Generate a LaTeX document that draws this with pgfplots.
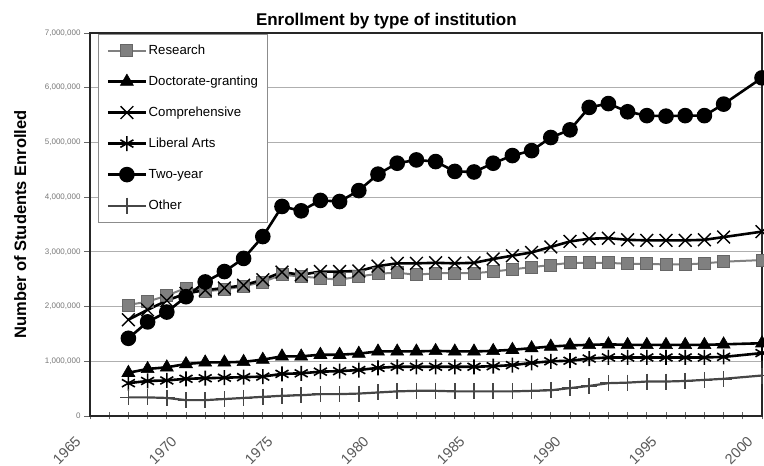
\documentclass[border=0pt]{standalone}
\usepackage{pgfplots}
\usepackage{pgfplotstable}
\pgfplotsset{compat=1.18}
\usepackage{fontspec}
\setmainfont{Liberation Sans}
\definecolor{rgray}{RGB}{128,128,128}
\definecolor{ogray}{RGB}{70,70,70}
\definecolor{gridc}{RGB}{175,175,175}
\definecolor{tickc}{RGB}{120,120,120}
\pgfplotstableread{
year research doctorate comprehensive liberal twoyear other
1967 2030000 790000 1760000 600000 1420000 340000
1968 2090000 860000 1940000 640000 1720000 340000
1969 2200000 890000 2110000 650000 1900000 330000
1970 2340000 950000 2240000 680000 2180000 290000
1971 2280000 980000 2300000 690000 2450000 290000
1972 2310000 980000 2340000 700000 2640000 310000
1973 2370000 990000 2390000 710000 2880000 330000
1974 2450000 1030000 2490000 720000 3280000 350000
1975 2580000 1090000 2630000 770000 3830000 370000
1976 2550000 1090000 2580000 780000 3750000 380000
1977 2520000 1120000 2640000 810000 3940000 400000
1978 2490000 1120000 2640000 820000 3920000 400000
1979 2550000 1140000 2650000 840000 4120000 410000
1980 2600000 1180000 2740000 880000 4420000 430000
1981 2620000 1180000 2790000 900000 4620000 450000
1982 2580000 1180000 2790000 900000 4680000 460000
1983 2610000 1190000 2800000 900000 4650000 460000
1984 2610000 1180000 2790000 900000 4470000 450000
1985 2610000 1180000 2800000 900000 4460000 450000
1986 2640000 1190000 2870000 910000 4620000 450000
1987 2680000 1210000 2930000 930000 4760000 450000
1988 2720000 1240000 2990000 970000 4850000 460000
1989 2760000 1270000 3090000 1000000 5090000 470000
1990 2800000 1290000 3190000 1010000 5230000 510000
1991 2800000 1300000 3240000 1050000 5640000 550000
1992 2800000 1310000 3250000 1070000 5710000 600000
1993 2780000 1300000 3220000 1070000 5560000 610000
1994 2780000 1300000 3210000 1070000 5490000 630000
1995 2770000 1300000 3210000 1070000 5480000 630000
1996 2770000 1300000 3210000 1070000 5490000 640000
1997 2790000 1300000 3220000 1070000 5490000 660000
1998 2820000 1310000 3270000 1080000 5700000 680000
2000 2850000 1330000 3370000 1150000 6180000 740000
}\datatable
\begin{document}
\begin{tikzpicture}[x=1pt,y=1pt]
\path[use as bounding box] (0,0) rectangle (764,466);
\begin{axis}[
  at={(90pt,50pt)}, anchor=south west,
  scale only axis, width=672pt, height=383pt,
  xmin=1965, xmax=2000, ymin=0, ymax=7000000,
  xtick={1965,1970,...,2000}, minor xtick={1965,...,2000},
  ytick={0,1000000,...,7000000},
  scaled y ticks=false, clip=false,
  ymajorgrids, grid style={gridc, line width=1.2pt},
  axis line style={black!85, line width=1.3pt},
  xtick align=center, ytick align=outside, tick pos=left,
  major tick length=6pt, minor tick length=7pt,
  tick style={black!60, line width=0.8pt},
  /pgf/number format/assume math mode=true,
  yticklabel style={font=\fontsize{8}{9}\selectfont, text=tickc,
    /pgf/number format/fixed, /pgf/number format/1000 sep={,}},
  xticklabel style={font=\fontsize{14.5}{16}\selectfont, text=black!65,
    /pgf/number format/1000 sep={}, inner sep=1pt, xshift=-11pt, yshift=-19pt, rotate=45, anchor=east},
  title={Enrollment by type of institution},
  title style={font=\bfseries\fontsize{17}{19}\selectfont, at={(0.441,1)}, anchor=base, yshift=2pt},
  ylabel={Number of Students Enrolled},
  ylabel style={font=\bfseries\fontsize{16.5}{18}\selectfont, at={(rel axis cs:-0.104,0.5)}, anchor=center},
  legend style={at={(rel axis cs:0.0119,1)}, anchor=north west, yshift=-0.5pt,
    draw=black!45, line width=0.8pt, fill=white,
    font=\fontsize{13.2}{15}\selectfont, row sep=14pt, inner sep=8.2pt,
    nodes={inner sep=1.5pt, text height=11pt, text depth=3pt}},
  legend cell align=left,
  legend image code/.code={\draw[#1, mark repeat=2, mark phase=2] plot coordinates {(0pt,0pt) (19pt,0pt) (38pt,0pt)};},
]
\addplot[rgray, line width=2pt, mark=square*, mark size=6pt,
  mark options={solid, fill=rgray, draw=rgray!80!black, line width=0.8pt}]
  table[x=year, y=research] {\datatable};
\addlegendentry{Research}
\addplot[black, line width=2.6pt, mark=triangle*, mark size=7.5pt,
  mark options={solid, fill=black, line width=0.6pt}]
  table[x=year, y=doctorate] {\datatable};
\addlegendentry{Doctorate-granting}
\addplot[black, line width=2.6pt, mark=x, mark size=9pt,
  mark options={solid, line width=1.4pt}]
  table[x=year, y=comprehensive] {\datatable};
\addlegendentry{Comprehensive}
\addplot[black, line width=2.6pt, mark=asterisk, mark size=7.5pt,
  mark options={solid, line width=1.6pt}]
  table[x=year, y=liberal] {\datatable};
\addlegendentry{Liberal Arts}
\addplot[black, line width=2.6pt, mark=*, mark size=6.5pt,
  mark options={solid, fill=black}]
  table[x=year, y=twoyear] {\datatable};
\addlegendentry{Two-year}
\addplot[ogray, line width=2.2pt, mark=+, mark size=8pt,
  mark options={solid, line width=1.6pt}]
  table[x=year, y=other] {\datatable};
\addlegendentry{Other}
\end{axis}
\end{tikzpicture}
\end{document}
